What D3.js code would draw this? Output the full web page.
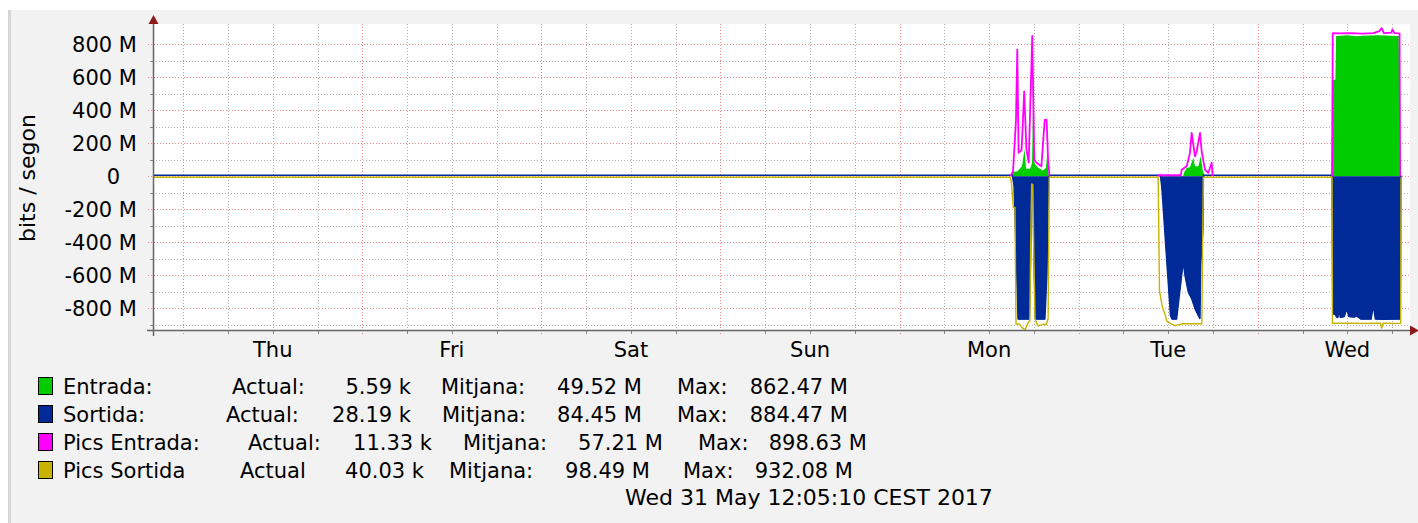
<!DOCTYPE html>
<html>
<head>
<meta charset="utf-8">
<script src="https://cdn.jsdelivr.net/npm/d3@7"></script>
<style>
  html, body { margin: 0; padding: 0; background: #fff; }
  svg { display: block; font-family: "DejaVu Sans", sans-serif; }
</style>
</head>
<body>
<div id="chart"></div>
<script>
'use strict';

// time is in hours counted from Thu 25 May 00:00, values in M bits/s
var hourStart = -4.05, hourEnd = 164.4;
var yMin = -932.08, yMax = 898.63;

var dayNames = ["Thu", "Fri", "Sat", "Sun", "Mon", "Tue", "Wed"];
var yTickValues = [-800, -600, -400, -200, 0, 200, 400, 600, 800];

// null splits a series into separate runs
var entrada = [
  [110.9, 0], [111.2, 25], [111.8, 30], [112.4, 60], [112.75, 165], [112.95, 45], [113.5, 45],
  [113.75, 80], [113.9, 500], [114.05, 80], [114.5, 55], [115.2, 35], [115.6, 50], [115.8, 140], [116.0, 0],
  null,
  [134.0, 0], [134.1, 20], [134.47, 50], [134.91, 55], [135.36, 112], [135.59, 60], [136.03, 60],
  [136.35, 122], [136.61, 40], [136.9, 0],
  null,
  [153.95, 0], [154.05, 585], [154.4, 585], [154.5, 850], [156.0, 855], [157.2, 848], [158.0, 852],
  [160.0, 855], [162.0, 852], [162.9, 850], [163.05, 0]
];

var sortida = [
  [hourStart, 0], [111.1, 0], [111.33, 60], [111.6, 450], [111.87, 870], [113.4, 870], [113.56, 500],
  [113.68, 30], [113.86, 30], [114.0, 500], [114.2, 870], [115.48, 870], [115.75, 600], [115.95, 50], [116.09, 0],
  [130.95, 0], [131.15, 80], [131.55, 350], [131.95, 620], [132.3, 850], [132.5, 870], [133.13, 870],
  [133.8, 607], [134.02, 526], [134.24, 607], [134.69, 708], [135.14, 748], [135.59, 809], [136.03, 850],
  [136.26, 870], [136.35, 547], [136.66, 324], [136.72, 0],
  [153.95, 0], [154.05, 840], [154.3, 840], [154.6, 860], [154.75, 860], [154.9, 815], [155.05, 860],
  [155.6, 855], [155.91, 809], [156.2, 855], [157.0, 858], [157.2, 850], [157.8, 870], [159.2, 870],
  [159.48, 789], [159.75, 870], [161.0, 872], [162.5, 870], [163.1, 870], [163.19, 0]
];

var picsEntrada = [
  [110.85, 0], [111.2, 29], [111.6, 340], [111.77, 767], [111.95, 142], [112.35, 160], [112.7, 514],
  [113.0, 160], [113.3, 82], [113.78, 851], [114.05, 100], [114.35, 82], [115.0, 60], [115.45, 342],
  [115.7, 342], [115.9, 100], [116.1, 0],
  null,
  [130.6, 0], [130.75, 6], [133.7, 6], [133.8, 40], [134.47, 60], [134.91, 140], [135.14, 263],
  [135.59, 120], [135.81, 150], [136.26, 263], [136.48, 150], [136.92, 40], [137.37, 20], [137.82, 82], [137.95, 0],
  null,
  [153.95, 0], [154.05, 868], [155.0, 866], [156.5, 868], [158.0, 864], [159.5, 868], [160.3, 880],
  [160.6, 898], [160.9, 868], [161.9, 870], [162.05, 890], [162.3, 868], [163.0, 866], [163.08, 0]
];

var picsSortida = [
  [hourStart, 0], [110.85, 0], [111.0, 40], [111.24, 183], [111.46, 183], [111.6, 890], [112.04, 890],
  [112.5, 915], [112.8, 925], [113.25, 880], [113.45, 870], [113.6, 300], [113.7, 40], [113.85, 45],
  [114.0, 500], [114.15, 860], [114.5, 900], [115.0, 895], [115.26, 890], [115.6, 895], [115.9, 860], [116.06, 0],
  [130.65, 0], [130.83, 690], [131.23, 790], [131.56, 830], [131.83, 875], [132.5, 890], [132.9, 900],
  [133.3, 895], [134.0, 888], [135.6, 888], [136.5, 888], [136.7, 0],
  [153.95, 0], [154.0, 885], [156.0, 885], [158.0, 886], [160.0, 885], [160.45, 885], [160.6, 915],
  [160.8, 885], [162.5, 886], [163.15, 885], [163.2, 0]
];

var legendNames = ["Entrada:", "Sortida:", "Pics Entrada:", "Pics Sortida"];
var legendActualLabels = ["Actual:", "Actual:", "Actual:", "Actual"];
var legendActual = ["5.59 k", "28.19 k", "11.33 k", "40.03 k"];
var legendMitjana = ["49.52 M", "84.45 M", "57.21 M", "98.49 M"];
var legendMax = ["862.47 M", "884.47 M", "898.63 M", "932.08 M"];
var legendColors = ["#00cc00", "#002a97", "#ff00ff", "#c8b400"];
var timeStamp = "Wed 31 May 12:05:10 CEST 2017";

var width = 1418, height = 523;
var fontSize = 21;

var gridColor = "#b4b4b4";
var majorGridColor = "#f08a8a";
var arrowColor = "#8e1b1b";

var svg = d3.select("#chart").append("svg")
  .attr("width", width)
  .attr("height", height);

// canvas
svg.append("rect").attr("x", 8).attr("y", 10).attr("width", width - 8).attr("height", height - 10)
  .attr("fill", "#f2f2f2");
svg.append("rect").attr("x", 8).attr("y", 10).attr("width", 3).attr("height", height - 10)
  .attr("fill", "#d6d6d6");

var x = d3.scaleLinear().domain([hourStart, hourEnd]).range([153, 1410]),
  y = d3.scaleLinear().domain([yMin, yMax]).range([330, 28]);

var plotTop = 24, plotBottom = y.range()[0];

svg.append("rect")
  .attr("x", x.range()[0]).attr("y", plotTop)
  .attr("width", x.range()[1] - x.range()[0]).attr("height", plotBottom - plotTop)
  .attr("fill", "#fff");

// grid
var grid = svg.append("g").attr("class", "grid");
var minorY = d3.range(-900, 900, 100).filter(function(v) { return v % 200 !== 0; });
var minorX = d3.range(0, hourEnd, 6).filter(function(h) { return h % 24 !== 0; });
var majorX = d3.range(0, hourEnd, 24);

grid.selectAll("line.minor-y").data(minorY).enter().append("line")
  .attr("x1", x.range()[0]).attr("x2", x.range()[1])
  .attr("y1", function(d) { return Math.round(y(d)) + 0.5; })
  .attr("y2", function(d) { return Math.round(y(d)) + 0.5; })
  .attr("stroke", gridColor).attr("stroke-dasharray", "1,2");

grid.selectAll("line.minor-x").data(minorX).enter().append("line")
  .attr("y1", plotTop).attr("y2", plotBottom)
  .attr("x1", function(d) { return Math.round(x(d)) + 0.5; })
  .attr("x2", function(d) { return Math.round(x(d)) + 0.5; })
  .attr("stroke", gridColor).attr("stroke-dasharray", "1,2");

grid.selectAll("line.major-y").data(yTickValues).enter().append("line")
  .attr("x1", x.range()[0] - 5).attr("x2", x.range()[1])
  .attr("y1", function(d) { return Math.round(y(d)) + 0.5; })
  .attr("y2", function(d) { return Math.round(y(d)) + 0.5; })
  .attr("stroke", majorGridColor).attr("stroke-dasharray", "1,2");

grid.selectAll("line.major-x").data(majorX).enter().append("line")
  .attr("y1", plotTop).attr("y2", plotBottom + 6)
  .attr("x1", function(d) { return Math.round(x(d)) + 0.5; })
  .attr("x2", function(d) { return Math.round(x(d)) + 0.5; })
  .attr("stroke", majorGridColor).attr("stroke-dasharray", "1,2");

// small ticks for the minor grid
grid.selectAll("line.tick-y").data(minorY).enter().append("line")
  .attr("x1", x.range()[0] - 3).attr("x2", x.range()[0])
  .attr("y1", function(d) { return Math.round(y(d)) + 0.5; })
  .attr("y2", function(d) { return Math.round(y(d)) + 0.5; })
  .attr("stroke", "#888");
grid.selectAll("line.tick-x").data(minorX).enter().append("line")
  .attr("y1", plotBottom).attr("y2", plotBottom + 4)
  .attr("x1", function(d) { return Math.round(x(d)) + 0.5; })
  .attr("x2", function(d) { return Math.round(x(d)) + 0.5; })
  .attr("stroke", "#888");

// data
var isDef = function(d) { return d !== null; };

var areaIn = d3.area().defined(isDef)
  .x(function(d) { return x(d[0]); })
  .y0(y(0))
  .y1(function(d) { return y(d[1]); });

var areaOut = d3.area().defined(isDef)
  .x(function(d) { return x(d[0]); })
  .y0(y(0))
  .y1(function(d) { return y(-d[1]); });

var lineIn = d3.line().defined(isDef)
  .x(function(d) { return x(d[0]); })
  .y(function(d) { return y(d[1]); });

var lineOut = d3.line().defined(isDef)
  .x(function(d) { return x(d[0]); })
  .y(function(d) { return y(-d[1]); });

var marks = svg.append("g").attr("class", "marks");

marks.append("path").datum(entrada).attr("d", areaIn).attr("fill", legendColors[0]);
marks.append("path").datum(sortida).attr("d", areaOut).attr("fill", legendColors[1]);
marks.append("path").datum(sortida).attr("d", lineOut)
  .attr("fill", "none").attr("stroke", legendColors[1]).attr("stroke-width", 1.4)
  .attr("transform", "translate(0,-1)");
marks.append("path").datum(picsEntrada).attr("d", lineIn)
  .attr("fill", "none").attr("stroke", legendColors[2]).attr("stroke-width", 1.8)
  .attr("stroke-linejoin", "round");
marks.append("path").datum(picsSortida).attr("d", lineOut)
  .attr("fill", "none").attr("stroke", legendColors[3]).attr("stroke-width", 1.4)
  .attr("stroke-linejoin", "round")
  .attr("transform", "translate(0,1)");

// axes
var axis = svg.append("g").attr("class", "axis");
axis.append("line")
  .attr("x1", x.range()[0] + 0.5).attr("x2", x.range()[0] + 0.5)
  .attr("y1", plotTop).attr("y2", plotBottom + 6)
  .attr("stroke", "#666").attr("stroke-width", 1.5);
axis.append("line")
  .attr("x1", x.range()[0] - 6).attr("x2", x.range()[1])
  .attr("y1", plotBottom + 0.5).attr("y2", plotBottom + 0.5)
  .attr("stroke", "#666").attr("stroke-width", 1.5);
axis.append("path")
  .attr("d", "M" + (x.range()[0] + 0.5) + "," + (plotTop - 9) + "l5,9l-10,0z")
  .attr("fill", arrowColor);
axis.append("path")
  .attr("d", "M" + (x.range()[1] + 9) + "," + (plotBottom + 0.5) + "l-9,-5l0,10z")
  .attr("fill", arrowColor);

// y tick labels
axis.selectAll("text.ylab").data(yTickValues).enter().append("text")
  .attr("x", function(d) { return d === 0 ? 120 : 137; })
  .attr("y", function(d) { return y(d); })
  .attr("dy", "0.36em")
  .attr("text-anchor", "end")
  .attr("font-size", fontSize)
  .attr("fill", "#000")
  .text(function(d) { return d === 0 ? "0" : d + " M"; });

// day labels, centred at noon
axis.selectAll("text.xlab").data(dayNames).enter().append("text")
  .attr("x", function(d, i) { return x(i * 24 + 12); })
  .attr("y", 357)
  .attr("text-anchor", "middle")
  .attr("font-size", fontSize)
  .attr("fill", "#000")
  .text(function(d) { return d; });

svg.append("text")
  .attr("transform", "translate(35,178) rotate(-90)")
  .attr("text-anchor", "middle")
  .attr("font-size", 22)
  .attr("fill", "#000")
  .text("bits / segon");

// legend
var legendRowY = [386, 414, 442, 470];
var legendCols = [
  [232, 411, 441, 642, 677, 848],
  [226, 411, 442, 642, 677, 848],
  [248, 432, 463, 663, 698, 867],
  [240, 424, 449, 650, 683, 853]
];

var legend = svg.append("g").attr("class", "legend")
  .attr("font-size", fontSize).attr("fill", "#000");

legendNames.forEach(function(name, i) {
  var cy = legendRowY[i], base = cy + 7.5, c = legendCols[i];
  legend.append("rect")
    .attr("x", 38.5).attr("y", cy - 8.5).attr("width", 14).attr("height", 17)
    .attr("fill", legendColors[i]).attr("stroke", "#000").attr("stroke-width", 1);
  legend.append("text").attr("x", 63).attr("y", base).text(name);
  legend.append("text").attr("x", c[0]).attr("y", base).text(legendActualLabels[i]);
  legend.append("text").attr("x", c[1]).attr("y", base).attr("text-anchor", "end").text(legendActual[i]);
  legend.append("text").attr("x", c[2]).attr("y", base).text("Mitjana:");
  legend.append("text").attr("x", c[3]).attr("y", base).attr("text-anchor", "end").text(legendMitjana[i]);
  legend.append("text").attr("x", c[4]).attr("y", base).text("Max:");
  legend.append("text").attr("x", c[5]).attr("y", base).attr("text-anchor", "end").text(legendMax[i]);
});

legend.append("text").attr("x", 625).attr("y", 505).attr("font-size", 22).text(timeStamp);
</script>
</body>
</html>
